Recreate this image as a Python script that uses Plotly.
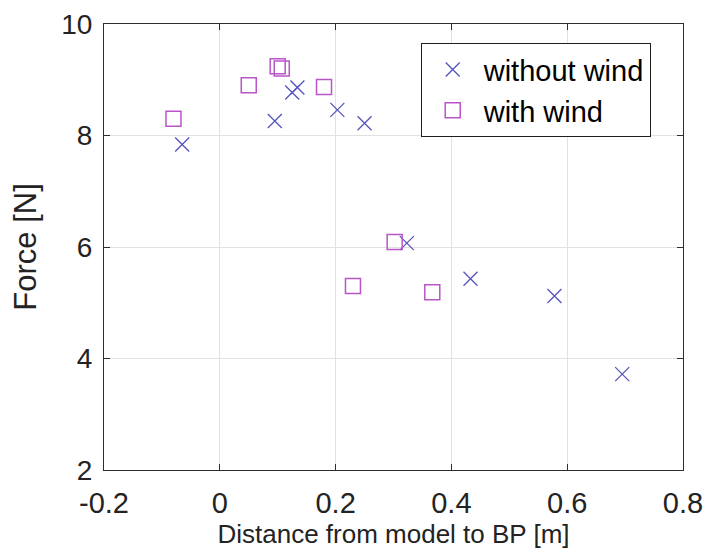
import plotly.graph_objects as go

# Data
x_without = [-0.065, 0.095, 0.125, 0.134, 0.203, 0.25, 0.323, 0.433, 0.578, 0.695]
y_without = [7.84, 8.26, 8.77, 8.86, 8.46, 8.22, 6.07, 5.43, 5.12, 3.72]

x_with = [-0.08, 0.05, 0.10, 0.107, 0.18, 0.23, 0.302, 0.367]
y_with = [8.30, 8.90, 9.24, 9.20, 8.87, 5.30, 6.09, 5.19]

x_ticks = [-0.2, 0, 0.2, 0.4, 0.6, 0.8]
x_tick_labels = ["-0.2", "0", "0.2", "0.4", "0.6", "0.8"]
y_ticks = [2, 4, 6, 8, 10]

blue = "rgb(85,85,190)"
magenta = "rgb(185,85,200)"
font_family = "Liberation Sans, Arial, sans-serif"
text_color = "rgb(35,35,35)"

fig = go.Figure()
fig.add_trace(go.Scatter(
    x=x_without, y=y_without, mode="markers", name="without wind",
    legendgroup="a",
    marker=dict(symbol="x-thin-open", size=14, color=blue,
                line=dict(color=blue, width=1.3)),
))
fig.add_trace(go.Scatter(
    x=x_with, y=y_with, mode="markers", name="with wind",
    legendgroup="b",
    marker=dict(symbol="square-open", size=15, color=magenta,
                line=dict(color=magenta, width=1.5)),
))

axis_common = dict(
    showgrid=True, gridcolor="rgb(225,225,225)", gridwidth=1,
    showline=True, linecolor="rgb(45,45,45)", linewidth=1, mirror="allticks",
    ticks="inside", ticklen=6, tickcolor="rgb(45,45,45)",
    zeroline=False, automargin=False,
)

fig.update_layout(
    width=711, height=554,
    margin=dict(l=96, r=36, t=16, b=92),
    paper_bgcolor="white", plot_bgcolor="white",
    xaxis=dict(range=[-0.2, 0.8], tickvals=x_ticks, ticktext=x_tick_labels,
               tickfont=dict(family=font_family, size=29, color=text_color),
               ticklabelstandoff=7,
               title=dict(text="Distance from model to BP [m]", standoff=2,
                          font=dict(family=font_family, size=26, color=text_color)),
               **axis_common),
    yaxis=dict(range=[2, 10], tickvals=y_ticks,
               tickfont=dict(family=font_family, size=28, color=text_color),
               ticklabelstandoff=5,
               title=dict(text="Force [N]", standoff=15,
                          font=dict(family=font_family, size=31, color=text_color)),
               **axis_common),
    legend=dict(x=0.547, y=0.957, xanchor="left", yanchor="top",
                bgcolor="white", bordercolor="rgb(30,30,30)", borderwidth=1,
                font=dict(family=font_family, size=29, color="black"),
                itemwidth=52, traceorder="grouped", tracegroupgap=0),
    showlegend=True,
)

fig.write_html("out.html")
